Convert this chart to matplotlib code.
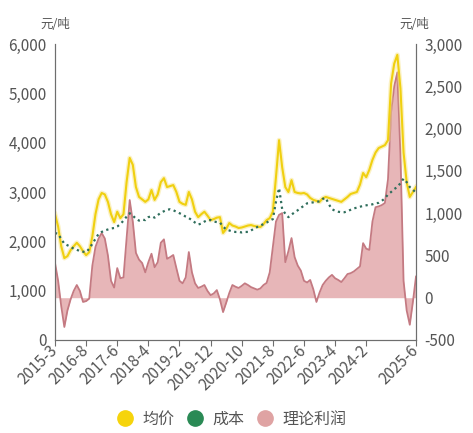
import matplotlib
matplotlib.use("Agg")
import matplotlib.pyplot as plt
from matplotlib.lines import Line2D

plt.rcParams['font.family'] = ['Noto Sans CJK SC', 'DejaVu Sans']

# x 轴类目（前期为不连续月份，之后按月）
early_months = ['2015-3', '2015-5', '2015-7', '2015-9', '2015-11', '2016-1',
                '2016-3', '2016-5', '2016-6', '2016-7', '2016-8']
months = list(early_months)
y, m = 2016, 8
while (y, m) != (2025, 6):
    m += 1
    if m > 12:
        y, m = y + 1, 1
    months.append(f'{y}-{m}')

# 均价 (元/吨, 左轴)
price = [2550, 2300, 1900, 1660, 1700, 1820, 1900, 1970, 1900, 1800,
         1720, 1780, 2100, 2550, 2850, 2980, 2950, 2800, 2550, 2390,
         2600, 2470, 2550, 3200, 3690, 3550, 3100, 2900, 2850, 2800,
         2850, 3040, 2840, 2950, 3200, 3280, 3100, 3120, 3140, 3000,
         2800, 2760, 2740, 3000, 2850, 2600, 2490, 2550, 2600, 2520,
         2430, 2450, 2480, 2490, 2170, 2250, 2370, 2320, 2300, 2270,
         2280, 2300, 2320, 2330, 2310, 2300, 2290, 2350, 2430, 2470,
         2600, 3300, 4050, 3500, 3100, 3000, 3240, 3000, 2980, 2970,
         2980, 2950, 2880, 2840, 2820, 2800, 2870, 2900, 2880, 2860,
         2840, 2820, 2800, 2850, 2900, 2960, 2980, 3000, 3150, 3385,
         3300, 3450, 3650, 3800, 3890, 3920, 3950, 4050, 5200, 5600,
         5780, 5100, 3800, 3200, 2900, 3000, 3100]

# 成本 (元/吨, 左轴)
cost = [2170, 2150, 2050, 1950, 1920, 1890, 1850, 1830, 1800, 1790,
        1780, 1850, 1950, 2050, 2150, 2190, 2220, 2240, 2260, 2270,
        2300, 2350, 2420, 2500, 2570, 2520, 2460, 2420, 2440, 2430,
        2490, 2510, 2480, 2530, 2580, 2610, 2640, 2650, 2630, 2600,
        2570, 2540, 2500, 2470, 2430, 2380, 2340, 2360, 2400, 2430,
        2430, 2400, 2390, 2380, 2300, 2240, 2220, 2200, 2190, 2190,
        2180, 2190, 2190, 2220, 2260, 2290, 2320, 2350, 2380, 2420,
        2450, 2800, 3080, 2650, 2560, 2490, 2540, 2590, 2630, 2680,
        2720, 2770, 2780, 2790, 2800, 2810, 2860, 2880, 2750, 2650,
        2620, 2600, 2590, 2590, 2610, 2640, 2670, 2680, 2700, 2720,
        2730, 2740, 2750, 2770, 2780, 2820, 2870, 2950, 3000, 3060,
        3100, 3180, 3270, 3200, 3100, 3050, 2980]

# 理论利润 (元/吨, 右轴)
profit = [410, 200, -100, -346, -150, -20, 80, 150, 80, -50,
          -40, -10, 380, 600, 700, 765, 700, 500, 200, 120,
          350, 230, 240, 700, 1155, 900, 530, 450, 410, 300,
          420, 520, 360, 420, 650, 690, 460, 480, 505, 350,
          200, 170, 240, 540, 300, 170, 115, 130, 150, 80,
          30, 50, 90, -20, -170, -60, 55, 150, 130, 115,
          140, 170, 150, 125, 110, 95, 110, 150, 175, 300,
          600, 900, 980, 1000, 420, 550, 705, 480, 380, 320,
          200, 180, 210, 100, -50, 60, 150, 200, 240, 270,
          230, 210, 185, 230, 280, 290, 310, 340, 370, 645,
          580, 565, 900, 1070, 1080, 1095, 1120, 1400, 2200, 2500,
          2665, 1700, 200, -150, -320, -50, 250]

x = list(range(len(months)))

fig = plt.figure(figsize=(4.73, 4.33), dpi=100)
ax = fig.add_axes([0.1163, 0.2148, 0.7632, 0.6836])
ax2 = ax.twinx()
ax.set_zorder(2)
ax.patch.set_visible(False)

# 理论利润面积
ax2.fill_between(x, 0, profit, color='#e3aaac', alpha=0.85, linewidth=0)
ax2.plot(x, profit, color='#c47a82', linewidth=1.3)

# 均价 / 成本
ax.plot(x, price, color='#f7e27a', linewidth=3.5, alpha=0.45)
ax.plot(x, price, color='#f0d010', linewidth=1.5)
ax.plot(x, cost, color='#2f6e5c', linewidth=1.6, linestyle=(0, (1, 1.6)))

ax.set_xlim(0, len(months) - 1)
ax.set_ylim(0, 6000)
ax2.set_ylim(-500, 3000)
ax.set_yticks([0, 1000, 2000, 3000, 4000, 5000, 6000])
ax2.set_yticks([-500, 0, 500, 1000, 1500, 2000, 2500, 3000])
ax.set_yticklabels([f'{v:,}' for v in ax.get_yticks()])
ax2.set_yticklabels([f'{v:,}' for v in ax2.get_yticks()])

tick_idx = list(range(0, 101, 10)) + [len(months) - 1]
ax.set_xticks(tick_idx)
ax.set_xticklabels([months[i] for i in tick_idx], rotation=45, ha='right',
                   va='center', rotation_mode='anchor')

for a in (ax, ax2):
    for s in a.spines.values():
        s.set_color('#6e6e6e')
    a.spines['top'].set_visible(False)
    a.tick_params(axis='y', length=0, labelsize=11, labelcolor='#555555', pad=6)
ax.tick_params(axis='x', length=4, color='#6e6e6e', labelsize=11,
               labelcolor='#555555', pad=2)

fig.text(0.116, 0.944, '元/吨', ha='center', va='center', fontsize=9, color='#555555')
fig.text(0.876, 0.944, '元/吨', ha='center', va='center', fontsize=9, color='#555555')

handles = [
    Line2D([], [], marker='o', linestyle='', markersize=11, color='#f6d40c'),
    Line2D([], [], marker='o', linestyle='', markersize=11, color='#2a8a55'),
    Line2D([], [], marker='o', linestyle='', markersize=11, color='#dfa3a3'),
]
fig.legend(handles, ['均价', '成本', '理论利润'], loc='center',
           bbox_to_anchor=(0.49, 0.032), ncol=3, frameon=False, fontsize=11.5,
           labelcolor='#555555', handlelength=1.0, handletextpad=0.6,
           columnspacing=0.8)

fig.savefig('out.png', dpi=100)
